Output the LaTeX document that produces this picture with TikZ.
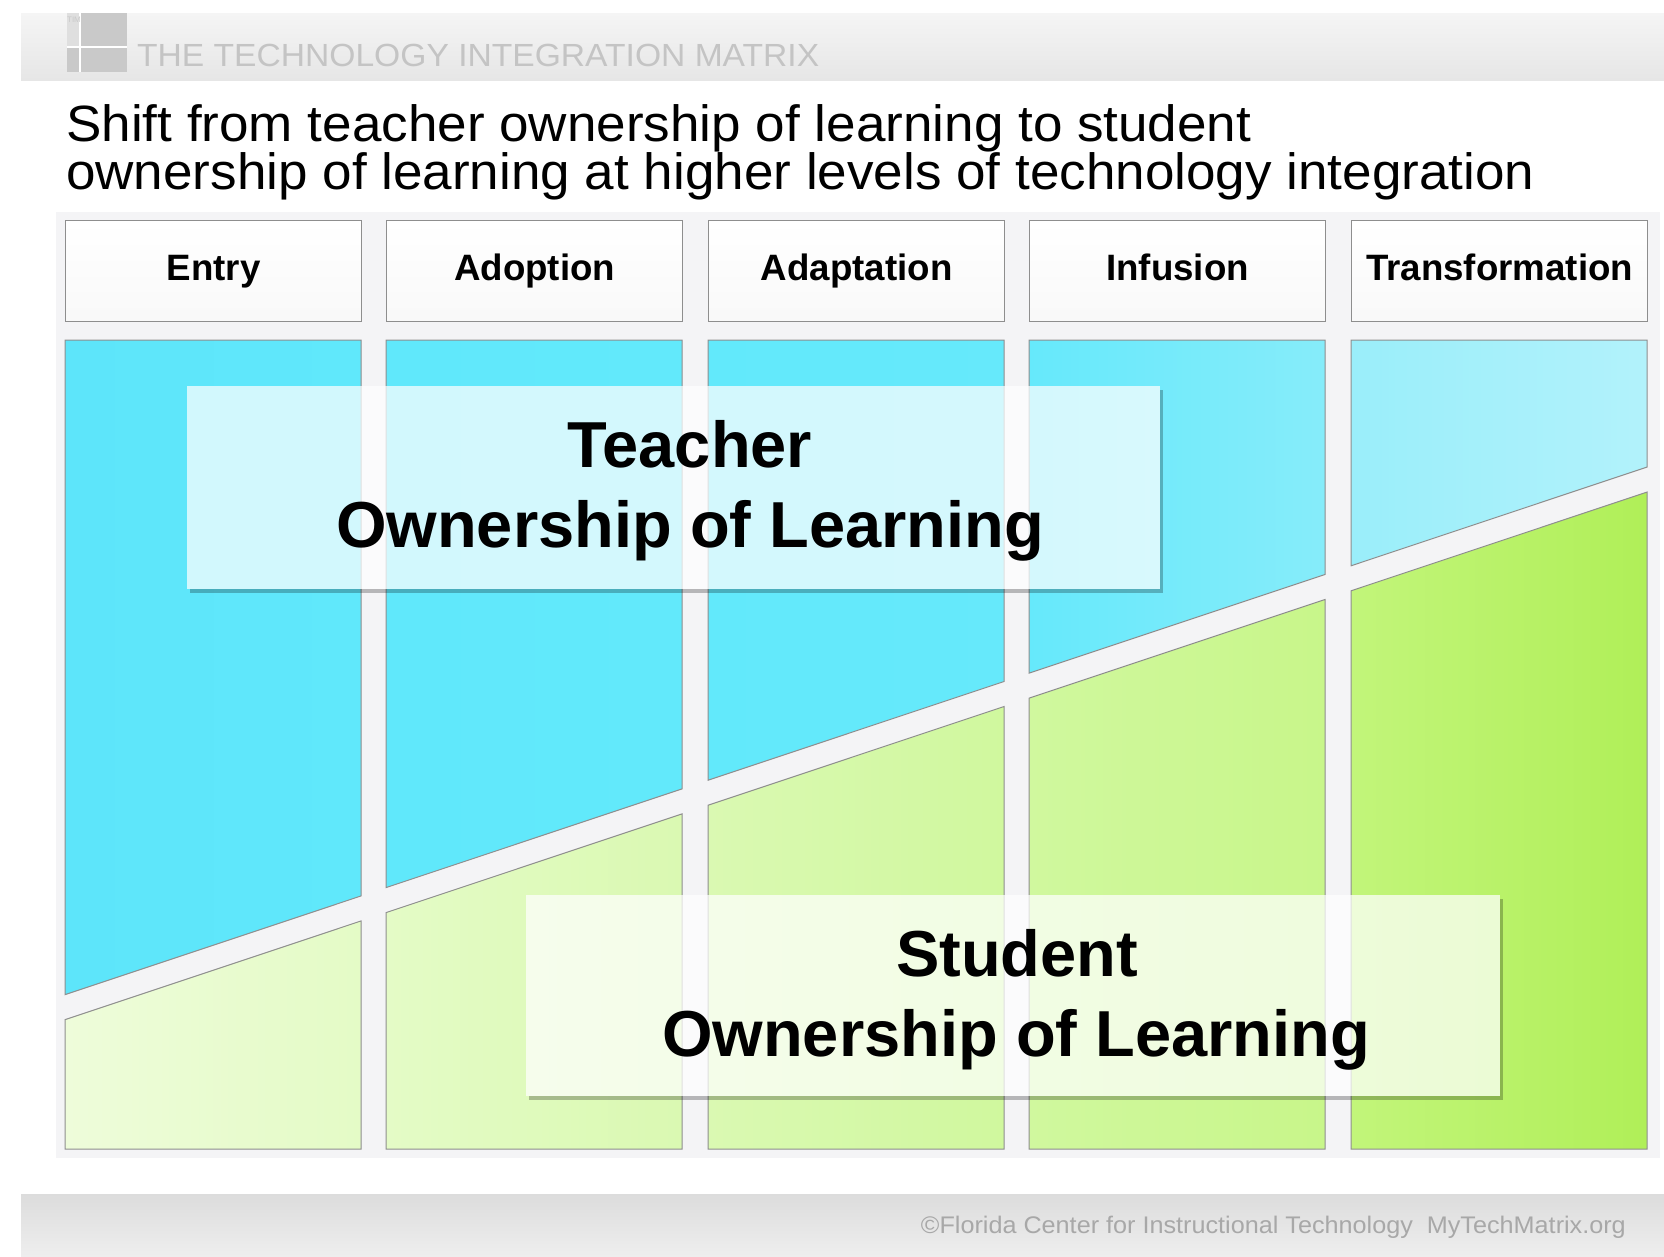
\documentclass[tikz,border=0pt]{standalone}
\usepackage{fontspec}
\setmainfont{Liberation Sans}
\newfontfamily\widefont[FakeStretch=1.04]{Liberation Sans}
\newfontfamily\thinfont[FakeStretch=1.05]{Liberation Sans}
\usetikzlibrary{calc}
\definecolor{bandtop}{HTML}{F5F5F5}
\definecolor{bandbot}{HTML}{E6E6E6}
\definecolor{logogray}{HTML}{C9C9C9}
\definecolor{titlegray}{HTML}{C4C4C4}
\definecolor{panel}{HTML}{F4F4F6}
\definecolor{tileedge}{HTML}{8E8E8E}
\definecolor{blueA}{HTML}{5DE5FA}
\definecolor{blueB}{HTML}{60E8FB}
\definecolor{blueC}{HTML}{62E9FB}
\definecolor{blueD}{HTML}{66E9FB}
\definecolor{blueE}{HTML}{86ECFA}
\definecolor{blueF}{HTML}{9AEEFA}
\definecolor{blueG}{HTML}{B2F2FB}
\definecolor{greenA}{HTML}{EEFCDA}
\definecolor{greenB}{HTML}{E4FBC6}
\definecolor{greenC}{HTML}{DAF9B2}
\definecolor{greenD}{HTML}{D0F89E}
\definecolor{greenE}{HTML}{C8F68A}
\definecolor{greenF}{HTML}{C2F57A}
\definecolor{greenG}{HTML}{B0EF58}
\definecolor{foottop}{HTML}{DCDCDC}
\definecolor{footbot}{HTML}{EEEEEE}
\definecolor{footgray}{HTML}{A8A8A8}
\begin{document}
\begin{tikzpicture}[x=1pt,y=-1pt,
  headbox/.style={draw=tileedge, line width=1.2pt, top color=white, bottom color=gray!5,
    minimum width=296pt, minimum height=101pt, inner sep=0pt, anchor=north west,
    text height=26pt, text depth=7.7pt, font=\fontsize{36.7}{40}\selectfont\bfseries},
  tile/.style={draw=tileedge, line width=1pt},
  ownbox/.style={fill=white, fill opacity=0.72, inner sep=0pt},
  owntext/.style={anchor=base, inner sep=0pt, font=\fontsize{65}{80}\selectfont\bfseries},
  boxshadow/.style={fill=black, opacity=0.25},
  subline/.style={anchor=base west, inner sep=0pt, font=\widefont\fontsize{51}{48}\selectfont}]
\useasboundingbox (0,0) rectangle (1664,1256);
\fill[white] (0,0) rectangle (1664,1256);
\shade[top color=bandtop, bottom color=bandbot] (21,13) rectangle (1664,80);
\fill[logogray] (67,13) rectangle (127,72);
\fill[logogray!60] (67,13) rectangle (80,47);
\draw[white, line width=2pt] (80,13) -- (80,72) (67,47) -- (127,47);
\node[inner sep=0pt, text=logogray, font=\fontsize{8}{8}\selectfont] (tim) at (74,20) {TIM};
\node[anchor=base west, inner sep=0pt, text=titlegray, font=\thinfont\fontsize{32}{34}\selectfont] (matrix) at (137,66) {THE TECHNOLOGY INTEGRATION MATRIX};
\node[subline] (shift) at (66,141) {Shift from teacher ownership of learning to student};
\node[subline] (higher) at (66,189) {ownership of learning at higher levels of technology integration};
\fill[panel] (56,212) rectangle (1660,1158);
\foreach \x/\lab/\nm in {65/Entry/entry, 386/Adoption/adoption, 708/Adaptation/adaptation, 1029/Infusion/infusion, 1351/Transformation/transformation}
  \node[headbox] (\nm) at (\x,220) {\lab};
\foreach \xl/\bl/\br/\gl/\gr in {65/blueA/blueB/greenA/greenB, 386/blueB/blueC/greenB/greenC, 708/blueC/blueD/greenC/greenD, 1029/blueD/blueE/greenD/greenE, 1351/blueF/blueG/greenF/greenG}{
  \pgfmathsetmacro\xr{\xl+296}
  \pgfmathsetmacro\yl{995-0.3335*(\xl-64)}
  \pgfmathsetmacro\yr{995-0.3335*(\xr-64)}
  \shade[tile, left color=\bl, right color=\br] (\xl,340) -- (\xr,340) -- (\xr,\yr) -- (\xl,\yl) -- cycle;
  \shade[tile, left color=\gl, right color=\gr] (\xl,\yl+25) -- (\xr,\yr+25) -- (\xr,1149) -- (\xl,1149) -- cycle;
}
\node[ownbox, minimum width=973pt, minimum height=203pt] (teacher) at (673.5,487.5) {};
\fill[boxshadow] ($(teacher.south west)+(3,0)$) rectangle ($(teacher.south east)+(3,4)$);
\fill[boxshadow] ($(teacher.north east)+(0,4)$) rectangle ($(teacher.south east)+(3,0)$);
\node[owntext] (teacher1) at (690,467) {Teacher};
\node[owntext] (teacher2) at (690,547) {Ownership of Learning};
\node[ownbox, minimum width=974pt, minimum height=201pt] (student) at (1013,995.5) {};
\fill[boxshadow] ($(student.south west)+(3,0)$) rectangle ($(student.south east)+(3,4)$);
\fill[boxshadow] ($(student.north east)+(0,4)$) rectangle ($(student.south east)+(3,0)$);
\node[owntext] (student1) at (1017,976) {Student};
\node[owntext] (student2) at (1016,1056) {Ownership of Learning};
\shade[top color=foottop, bottom color=footbot] (21,1194) rectangle (1664,1256);
\node[anchor=base east, inner sep=0pt, text=footgray, font=\thinfont\fontsize{24}{26}\selectfont] (credit) at (1626,1233) {©Florida Center for Instructional Technology\ \ MyTechMatrix.org};
\end{tikzpicture}
\end{document}
